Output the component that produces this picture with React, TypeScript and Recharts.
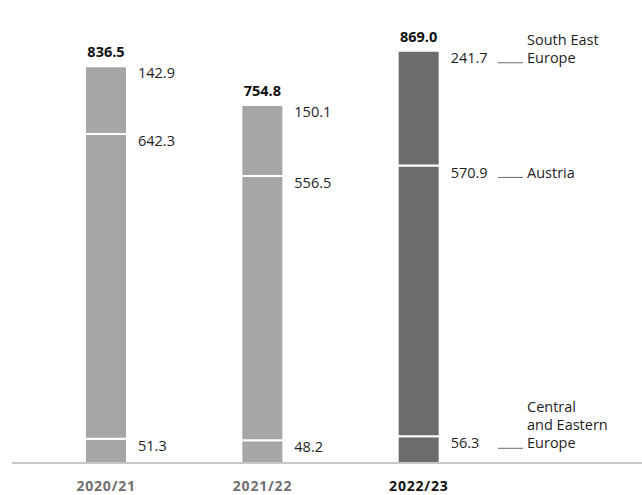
import { Bar, BarChart, Cell, LabelList, XAxis, YAxis } from "recharts";

// Revenue by region, EUR m
const years = ["2020/21", "2021/22", "2022/23"];
const cee = [51.3, 48.2, 56.3];
const austria = [642.3, 556.5, 570.9];
const see = [142.9, 150.1, 241.7];
const totals = [836.5, 754.8, 869.0];

const ceeName = ["Central", "and Eastern", "Europe"];
const austriaName = ["Austria"];
const seeName = ["South East", "Europe"];

const LIGHT = "#a6a6a6";
const DARK = "#6c6c6a";
const FONT = "'Open Sans', sans-serif";
const LAST = years.length - 1;

const data = years.map((year, i) => ({
  year,
  cee: cee[i],
  austria: austria[i],
  see: see[i],
  total: totals[i],
}));

const fmt = (v: number) => v.toFixed(1);

/* value to the right of each segment; region name on the last bar */
function segmentLabel(names: string[]) {
  return (props: any) => {
    const { x, y, width, value, index } = props;
    const tx = x + width + 11;
    const ty = y + 7;
    return (
      <g>
        <text
          x={tx}
          y={ty}
          dy="0.35em"
          fontFamily={FONT}
          fontSize={14.5}
          fill="#1e1e1e"
        >
          {fmt(Number(value))}
        </text>
        {index === LAST && (
          <g>
            <line x1={498} x2={523} y1={ty + 5} y2={ty + 5} stroke="#6a6a6a" strokeWidth={1} />
            {names.map((n, k) => (
              <text
                key={n}
                x={527}
                y={ty - (names.length - 1 - k) * 18}
                dy="0.35em"
                fontFamily={FONT}
                fontSize={14.5}
                fill="#1e1e1e"
              >
                {n}
              </text>
            ))}
          </g>
        )}
      </g>
    );
  };
}

function TotalLabel(props: any) {
  const { x, y, width, value } = props;
  return (
    <text
      x={x + width / 2}
      y={y - 14}
      dy="0.35em"
      textAnchor="middle"
      fontFamily={FONT}
      fontSize={14.5}
      fontWeight={700}
      fill="#111"
    >
      {fmt(Number(value))}
    </text>
  );
}

function YearTick(props: any) {
  const { x, y, payload, index } = props;
  const last = index === LAST || payload.value === years[LAST];
  return (
    <text
      x={x}
      y={y}
      dy="0.71em"
      textAnchor="middle"
      fontFamily={FONT}
      fontSize={14}
      fontWeight={700}
      letterSpacing={0.8}
      fill={last ? "#111" : "#707070"}
    >
      {payload.value}
    </text>
  );
}

export default function App() {
  return (
    <div style={{ position: "absolute", left: 0, top: 0, width: 642, height: 495, background: "#fff" }}>
      <BarChart
        width={642}
        height={495}
        data={data}
        margin={{ top: 36, right: 0, left: 12, bottom: 0 }}
      >
        <XAxis
          dataKey="year"
          height={32}
          tickLine={false}
          tickSize={0}
          tickMargin={18}
          axisLine={{ stroke: "#c8c8c8", strokeWidth: 2 }}
          padding={{ left: 16, right: 145 }}
          tick={<YearTick />}
          interval={0}
        />
        <YAxis hide domain={[0, 900]} />
        <Bar dataKey="cee" stackId="a" barSize={42} stroke="#fff" strokeWidth={2} isAnimationActive={false}>
          {data.map((d, i) => (
            <Cell key={d.year} fill={i === LAST ? DARK : LIGHT} />
          ))}
          <LabelList dataKey="cee" content={segmentLabel(ceeName)} />
        </Bar>
        <Bar dataKey="austria" stackId="a" barSize={42} stroke="#fff" strokeWidth={2} isAnimationActive={false}>
          {data.map((d, i) => (
            <Cell key={d.year} fill={i === LAST ? DARK : LIGHT} />
          ))}
          <LabelList dataKey="austria" content={segmentLabel(austriaName)} />
        </Bar>
        <Bar dataKey="see" stackId="a" barSize={42} stroke="#fff" strokeWidth={2} isAnimationActive={false}>
          {data.map((d, i) => (
            <Cell key={d.year} fill={i === LAST ? DARK : LIGHT} />
          ))}
          <LabelList dataKey="see" content={segmentLabel(seeName)} />
          <LabelList dataKey="total" content={TotalLabel} />
        </Bar>
      </BarChart>
    </div>
  );
}
